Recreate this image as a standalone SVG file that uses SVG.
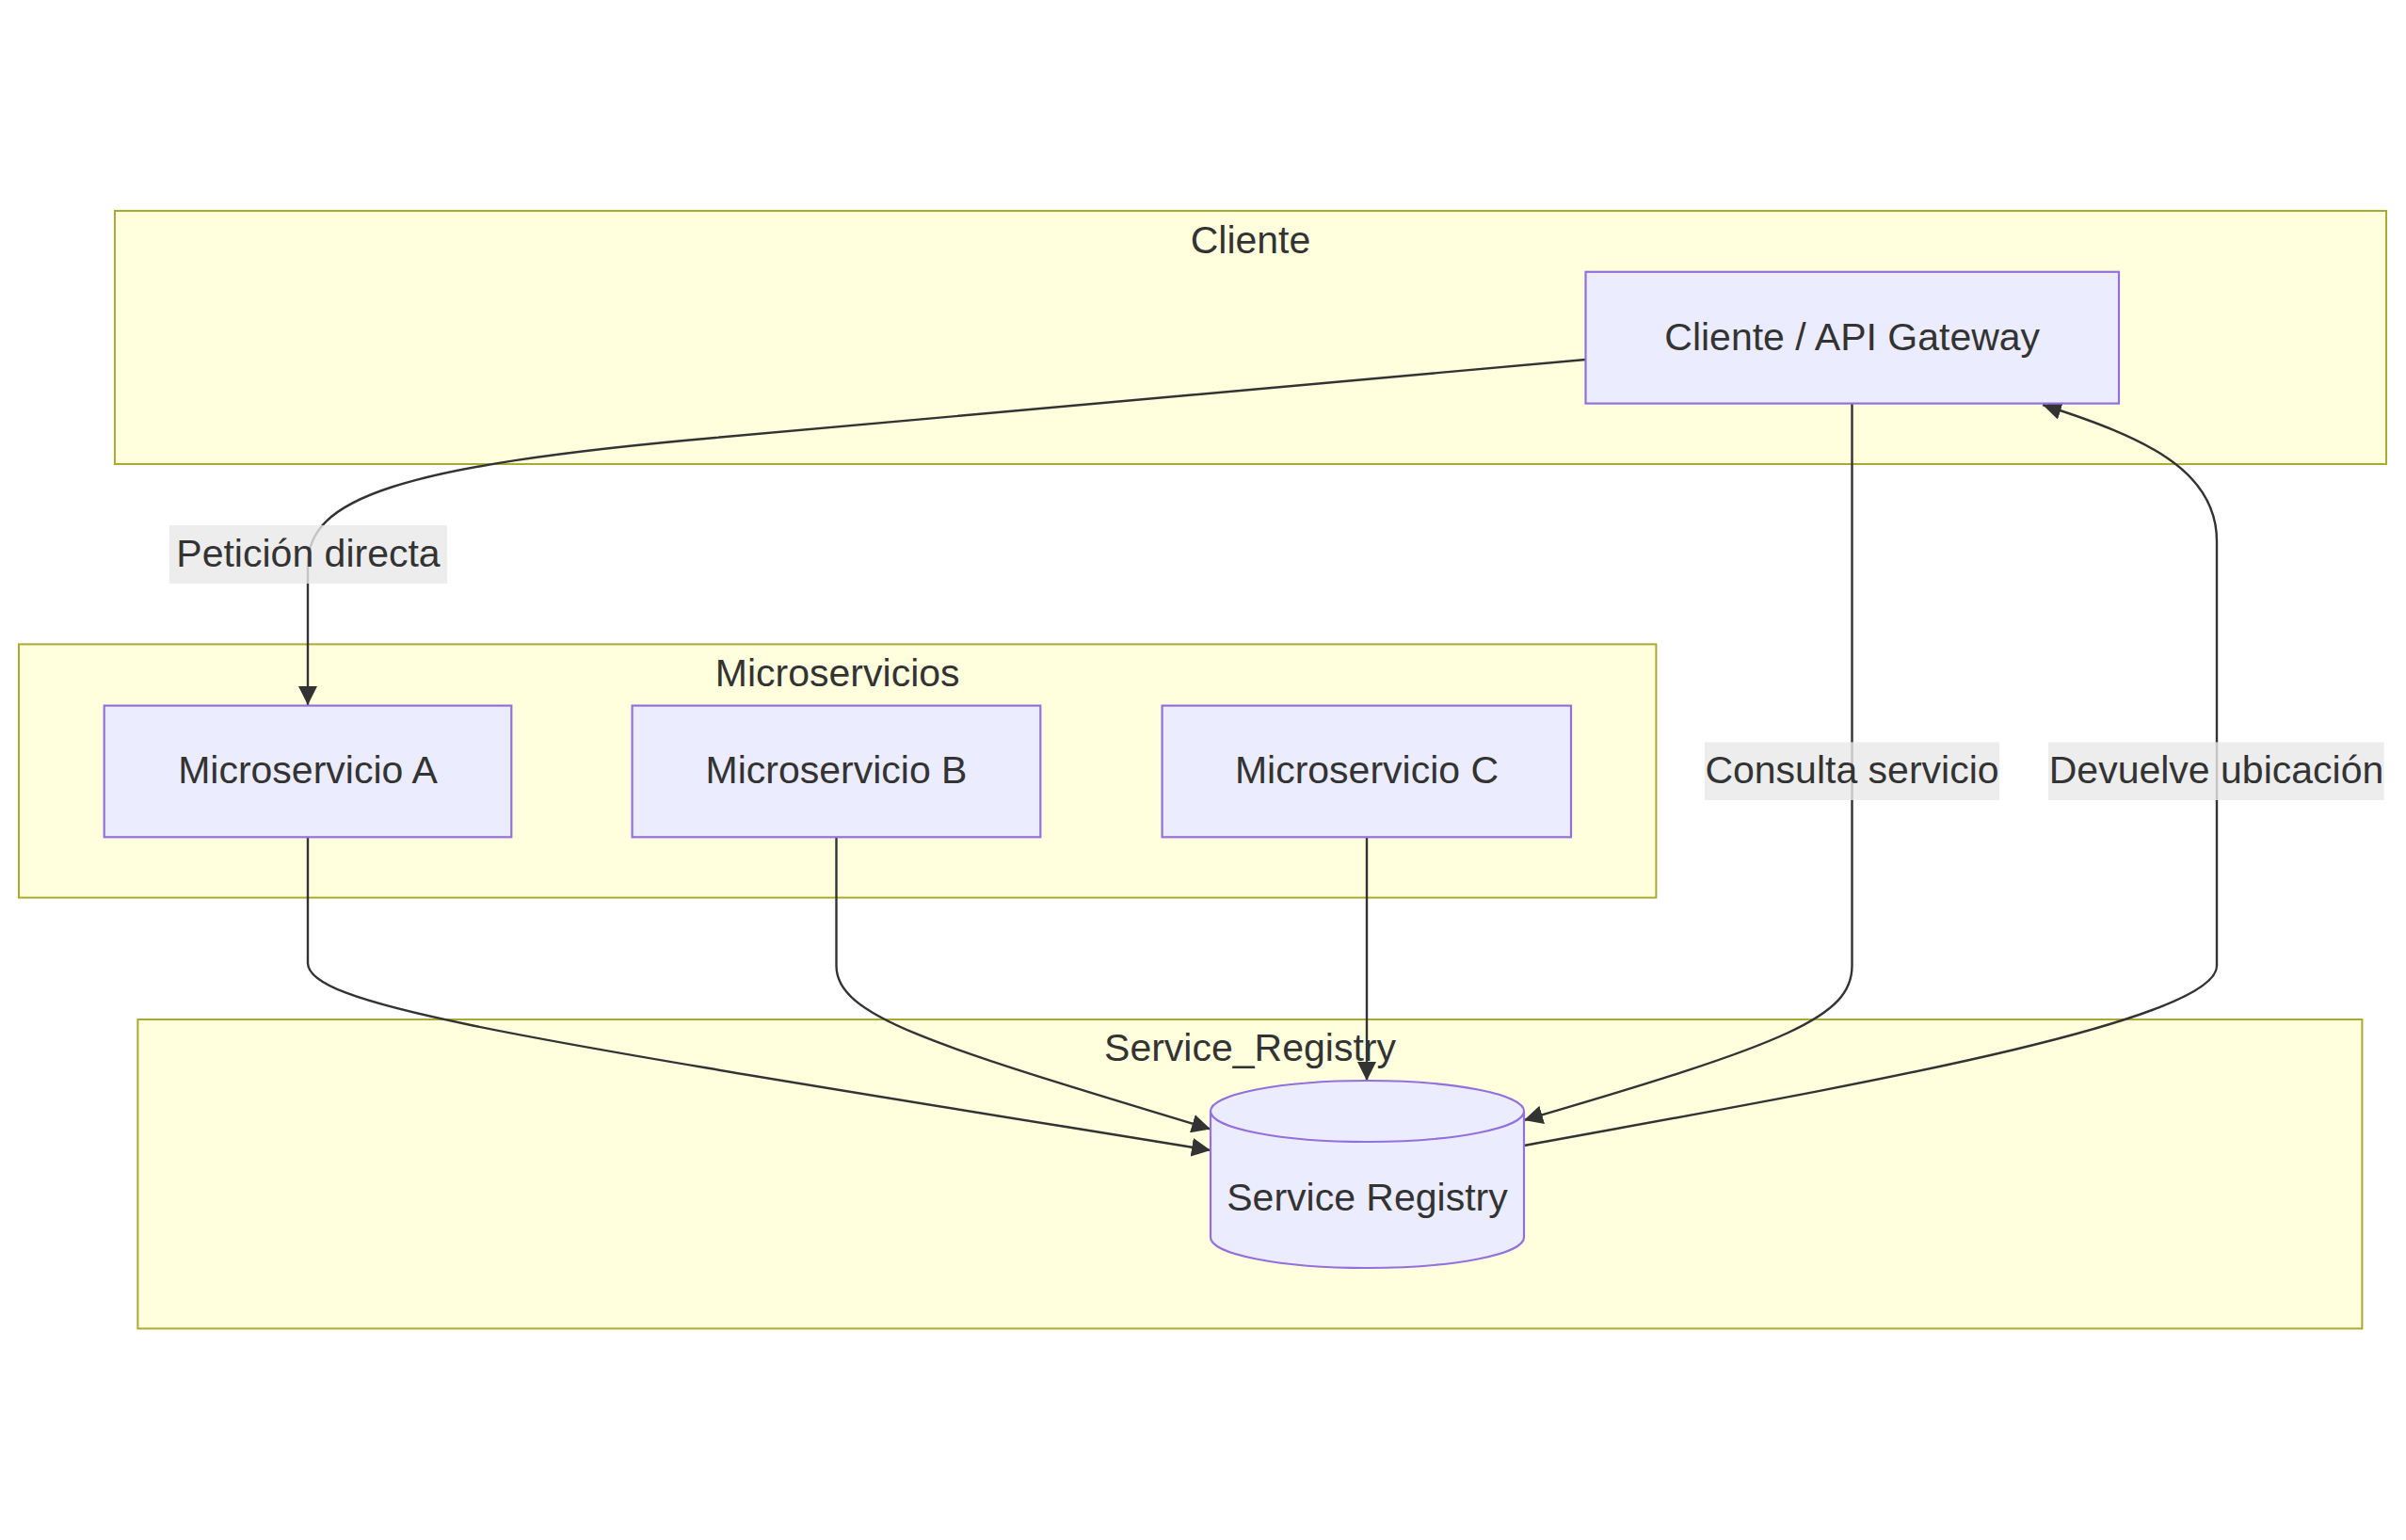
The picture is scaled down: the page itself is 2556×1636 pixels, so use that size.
<svg xmlns="http://www.w3.org/2000/svg" width="2556" height="1636" viewBox="0 0 2556 1636">
  <defs>
    <style>
      .cluster { fill: #ffffde; stroke: #aaaa33; stroke-width: 2; }
      .node { fill: #ECECFF; stroke: #9370DB; stroke-width: 2.2; }
      .edge { fill: none; stroke: #333333; stroke-width: 2.4; }
      .lbl { font-family: "Liberation Sans", Arial, sans-serif; font-size: 41px; fill: #333333; text-anchor: middle; }
      .elbg { fill: #e8e8e8; fill-opacity: 0.8; }
    </style>
    <marker id="arrow" viewBox="0 0 10 10" refX="10" refY="5" markerUnits="userSpaceOnUse" markerWidth="20" markerHeight="20" orient="auto">
      <path d="M0,0 L10,5 L0,10 z" fill="#333333"/>
    </marker>
  </defs>
  <rect width="2556" height="1636" fill="#ffffff"/>

  <g id="cluster-Cliente">
    <rect class="cluster" x="122" y="224" width="2413" height="269"/>
    <text class="lbl" x="1328.5" y="268.5">Cliente</text>
  </g>
  <g id="cluster-Microservicios">
    <rect class="cluster" x="20" y="684.4" width="1739.4" height="269.2"/>
    <text class="lbl" x="889.7" y="729">Microservicios</text>
  </g>
  <g id="cluster-Service_Registry">
    <rect class="cluster" x="146.4" y="1083" width="2363" height="328.4"/>
    <text class="lbl" x="1328" y="1127">Service_Registry</text>
  </g>

  <g id="connectors">
    <path id="e-cliente-a" class="edge" d="M1684.5,382 L760,465 C420,495 327,530 327,600 L327,749" marker-end="url(#arrow)"/>
    <path id="e-cliente-registry" class="edge" d="M1967.5,429 L1967.5,1026 C1967.5,1080 1900,1108 1619,1190" marker-end="url(#arrow)"/>
    <path id="e-registry-cliente" class="edge" d="M1619,1217 C1900,1165 2355,1090 2355,1026 L2355,575 C2355,500 2280,465 2170,430" marker-end="url(#arrow)"/>
    <path id="e-a-registry" class="edge" d="M327,889 L327,1023 C327,1070 560,1104 1286,1222" marker-end="url(#arrow)"/>
    <path id="e-b-registry" class="edge" d="M888.5,889 L888.5,1026 C888.5,1080 990,1110 1286,1199.5" marker-end="url(#arrow)"/>
    <path id="e-c-registry" class="edge" d="M1452,889 L1452,1148" marker-end="url(#arrow)"/>
  </g>

  <g id="edge-labels">
    <g id="label-peticion">
      <rect class="elbg" x="180" y="558" width="295" height="62"/>
      <text class="lbl" x="327.5" y="602">Petición directa</text>
    </g>
    <g id="label-consulta">
      <rect class="elbg" x="1811" y="788.4" width="313" height="61.6"/>
      <text class="lbl" x="1967.5" y="832">Consulta servicio</text>
    </g>
    <g id="label-devuelve">
      <rect class="elbg" x="2176" y="788.4" width="356.7" height="61.6"/>
      <text class="lbl" x="2354.5" y="832">Devuelve ubicación</text>
    </g>
  </g>

  <g id="node-Cliente">
    <rect class="node" x="1684.5" y="288.8" width="566.5" height="139.8"/>
    <text class="lbl" x="1967.7" y="372">Cliente / API Gateway</text>
  </g>
  <g id="node-MicroA">
    <rect class="node" x="110.7" y="749.6" width="432.6" height="139.7"/>
    <text class="lbl" x="327" y="832">Microservicio A</text>
  </g>
  <g id="node-MicroB">
    <rect class="node" x="671.6" y="749.6" width="433.7" height="139.7"/>
    <text class="lbl" x="888.5" y="832">Microservicio B</text>
  </g>
  <g id="node-MicroC">
    <rect class="node" x="1234.6" y="749.6" width="434.4" height="139.7"/>
    <text class="lbl" x="1452" y="832">Microservicio C</text>
  </g>
  <g id="node-Registry">
    <path class="node" d="M1286,1180.5 a166.5,32.5 0 0 0 333,0 a166.5,32.5 0 0 0 -333,0 l0,134 a166.5,32.5 0 0 0 333,0 l0,-134"/>
    <text class="lbl" x="1452.5" y="1285.5">Service Registry</text>
  </g>
</svg>
